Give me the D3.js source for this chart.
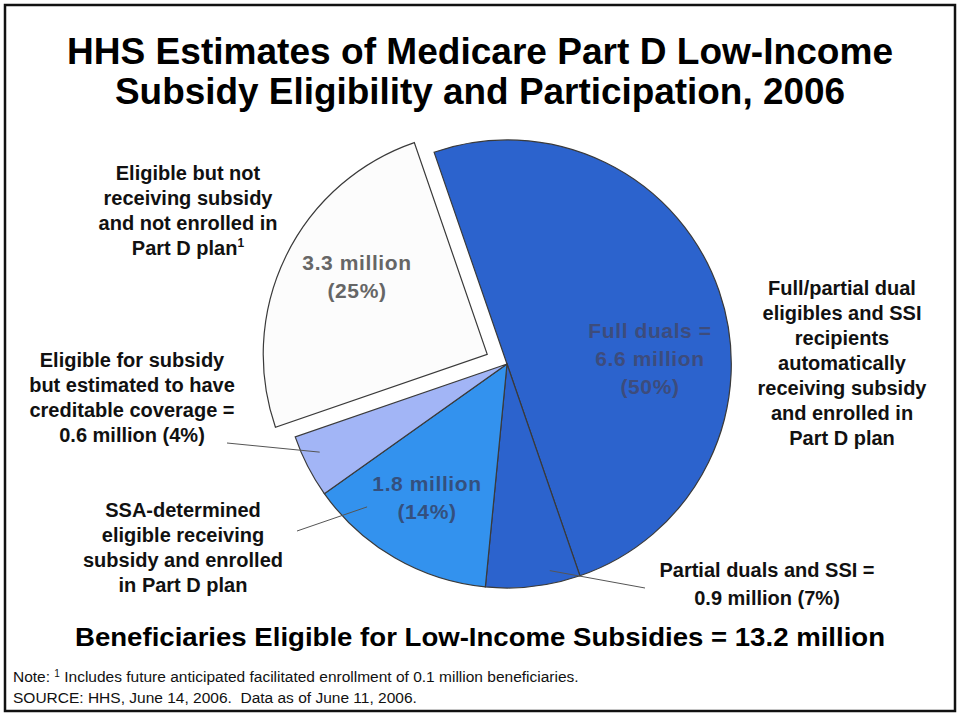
<!DOCTYPE html>
<html>
<head>
<meta charset="utf-8">
<script src="https://cdn.jsdelivr.net/npm/d3@7"></script>
<style>
  body { margin: 0; background: #fff; }
  text { font-family: "Liberation Sans", Arial, sans-serif; }
</style>
</head>
<body>
<div id="chart"></div>
<script>
// slices, clockwise from the top
const sliceNames = ["Full duals", "Partial duals and SSI", "SSA-determined", "Creditable coverage", "Not enrolled"];
const sliceValues = [6.6, 0.9, 1.8, 0.6, 3.3];   // millions
const slicePercents = [50, 7, 14, 4, 25];
const sliceColors = ["#2c63cd", "#2c63cd", "#3392ee", "#a2b5f6", "#fcfcfc"];

// text inside the slices
const innerLabels = [
    ["Full duals =", "6.6 million", "(50%)"],
    [],
    ["1.8 million", "(14%)"],
    [],
    ["3.3 million", "(25%)"]
];

// text outside the pie
const outerLabels = [
    ["Full/partial dual", "eligibles and SSI", "recipients", "automatically", "receiving subsidy", "and enrolled in", "Part D plan"],
    ["Partial duals and SSI =", "0.9 million (7%)"],
    ["SSA-determined", "eligible receiving", "subsidy and enrolled", "in Part D plan"],
    ["Eligible for subsidy", "but estimated to have", "creditable coverage =", "0.6 million (4%)"],
    ["Eligible but not", "receiving subsidy", "and not enrolled in", "Part D plan"]
];

const total = d3.sum(sliceValues);
const titleLines = ["HHS Estimates of Medicare Part D Low-Income", "Subsidy Eligibility and Participation, 2006"];
const totalLine = `Beneficiaries Eligible for Low-Income Subsidies = ${total.toFixed(1)} million`;
const noteLines = ["Includes future anticipated facilitated enrollment of 0.1 million beneficiaries.",
                   "SOURCE: HHS, June 14, 2006.  Data as of June 11, 2006."];

const width = 960, height = 720;
const cx = 507, cy = 364, radius = 224;
const rad = Math.PI / 180;

const svg = d3.select("#chart")
    .append("svg")
    .attr("width", width)
    .attr("height", height);

svg.append("rect")
    .attr("x", 5).attr("y", 5)
    .attr("width", 950).attr("height", 706)
    .attr("fill", "#fff")
    .attr("stroke", "#111")
    .attr("stroke-width", 2.5);

// Title
svg.selectAll(".title")
    .data(titleLines)
    .enter()
    .append("text")
    .attr("class", "title")
    .attr("x", 480)
    .attr("y", (d, i) => 64 + i * 40)
    .attr("text-anchor", "middle")
    .attr("textLength", (d, i) => i === 0 ? 826 : 730)
    .attr("lengthAdjust", "spacingAndGlyphs")
    .style("font-weight", "bold")
    .style("font-size", "36px")
    .text(d => d);

// Pie
const pie = d3.pie()
    .sort(null)
    .value(d => d)
    .startAngle(-19 * rad)
    .endAngle(341 * rad);

const arcs = pie(sliceValues);
const arc = d3.arc().innerRadius(0).outerRadius(radius);

// exploded slice offset
function offset(i) {
    if (i !== 4) return [0, 0];
    const a = (arcs[i].startAngle + arcs[i].endAngle) / 2;
    return [Math.sin(a) * 22, -Math.cos(a) * 22];
}

const g = svg.append("g").attr("transform", `translate(${cx},${cy})`);

g.selectAll(".slice")
    .data(arcs)
    .enter()
    .append("path")
    .attr("class", "slice")
    .attr("transform", (d, i) => `translate(${offset(i)})`)
    .attr("d", arc)
    .attr("fill", (d, i) => sliceColors[i])
    .attr("stroke", "#3a3a3a")
    .attr("stroke-width", 1.2);

// labels inside slices
const innerPos = [[143, -26], null, [-80, 127], null, [-150, -94]];
const innerColor = ["#3d4c7c", null, "#34507e", null, "#666"];
arcs.forEach((d, i) => {
    if (!innerLabels[i].length) return;
    const [dx, dy] = innerPos[i];
    g.append("text")
        .attr("text-anchor", "middle")
        .attr("fill", innerColor[i])
        .style("font-weight", "bold")
        .style("font-size", "21px")
        .style("letter-spacing", "0.6px")
        .selectAll("tspan")
        .data(innerLabels[i])
        .enter()
        .append("tspan")
        .attr("x", dx)
        .attr("y", (t, j) => dy + j * 28)
        .text(t => t);
});

// leader lines: from a point in the slice (angle, radius) out to the label
const leaders = [
    null,
    { angle: 168.3, r: 211, to: [645, 588] },
    { angle: 224.4, r: 200, to: [297, 531] },
    { angle: 244.8, r: 207, to: [227, 443] },
    null
];
leaders.forEach(l => {
    if (!l) return;
    svg.append("line")
        .attr("x1", cx + Math.sin(l.angle * rad) * l.r)
        .attr("y1", cy - Math.cos(l.angle * rad) * l.r)
        .attr("x2", l.to[0])
        .attr("y2", l.to[1])
        .attr("stroke", "#555")
        .attr("stroke-width", 1);
});

// labels outside the pie
const outerPos = [[842, 295], [767, 577], [183, 517], [132, 367], [188, 180]];
outerLabels.forEach((lines, i) => {
    const t = svg.append("text")
        .attr("text-anchor", "middle")
        .attr("fill", "#111")
        .style("font-weight", "bold")
        .style("font-size", "20px");
    lines.forEach((line, j) => {
        t.append("tspan")
            .attr("x", outerPos[i][0])
            .attr("y", outerPos[i][1] + j * (i === 1 ? 28 : 25))
            .text(line);
        if (i === 4 && j === lines.length - 1) {
            t.append("tspan")
                .attr("dy", -8)
                .style("font-size", "12px")
                .text("1");
        }
    });
});

// total line
svg.append("text")
    .attr("x", 480)
    .attr("y", 646)
    .attr("text-anchor", "middle")
    .attr("textLength", 810)
    .attr("lengthAdjust", "spacingAndGlyphs")
    .style("font-weight", "bold")
    .style("font-size", "25px")
    .text(totalLine);

// notes
const note = svg.append("text")
    .attr("x", 13)
    .attr("y", 682)
    .style("font-size", "15.5px")
    .attr("fill", "#111");
note.append("tspan").text("Note: ");
note.append("tspan").attr("dy", -5).style("font-size", "10px").text("1");
note.append("tspan").attr("dy", 5).text(" " + noteLines[0]);

svg.append("text")
    .attr("x", 13)
    .attr("y", 703)
    .style("font-size", "15.5px")
    .style("white-space", "pre")
    .attr("fill", "#111")
    .text(noteLines[1]);
</script>
</body>
</html>
